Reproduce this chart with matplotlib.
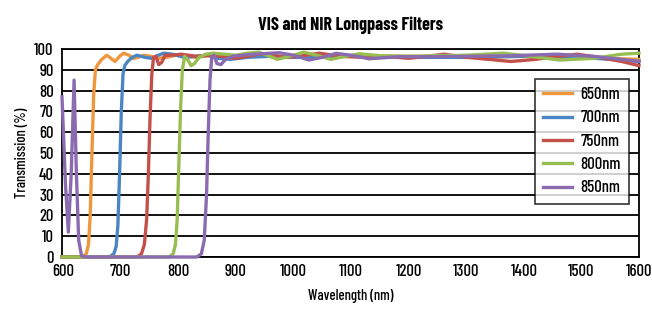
import matplotlib
matplotlib.use("Agg")
import matplotlib.pyplot as plt

plt.rcParams['font.family'] = ['Barlow Condensed', 'DejaVu Sans']

# ---- data ----
wl_650 = [598, 620, 634, 640, 644, 647, 650, 653, 656, 660, 667, 676, 683, 690, 698, 705, 714, 722, 730, 740, 752,
          765, 780, 795, 810, 830, 860, 900, 950, 1000, 1100, 1200, 1300, 1400, 1500, 1600]
t_650 = [0, 0, 0, 1.5, 6, 20, 50, 78, 90, 92.5, 95, 97, 95.5, 94, 96.5, 98, 97, 95.5, 96, 97, 96.5,
         95.5, 96, 97, 96.5, 96, 97, 96.5, 96.5, 96, 96.5, 96.5, 96, 96.5, 96, 95]

wl_700 = [598, 680, 688, 692, 695, 698, 701, 704, 707, 712, 720, 728, 742, 754, 765, 775, 790, 810, 830, 850,
          870, 890, 920, 960, 1000, 1100, 1200, 1300, 1400, 1500, 1600]
t_700 = [0, 0, 1.5, 5, 15, 40, 70, 88, 92, 94, 96, 97, 96, 95.5, 97, 98, 97.5, 96, 96.5, 97,
         95.5, 95, 96, 96.5, 96, 96.5, 96, 96, 96.5, 96, 94]

wl_750 = [598, 728, 736, 741, 745, 748, 751, 754, 757, 761, 766, 771, 777, 790, 805, 830, 860, 900, 940, 958,
          985, 1010, 1045, 1080, 1120, 1160, 1200, 1262, 1300, 1340, 1377, 1420, 1460, 1493, 1530, 1570, 1600]
t_750 = [0, 0, 1.5, 6, 18, 40, 68, 88, 96, 96.5, 92.5, 93.5, 97, 97, 97.5, 96.5, 97, 95.5, 97.5, 97.5,
         96, 96.5, 98, 96.5, 96, 96.5, 95.5, 97.5, 96, 95, 94, 95, 96.5, 97.5, 96, 94, 92]

wl_800 = [598, 784, 791, 795, 798, 801, 804, 807, 811, 816, 822, 828, 836, 848, 860, 880, 900, 920, 940, 972,
          1000, 1018, 1040, 1065, 1090, 1115, 1150, 1200, 1250, 1300, 1365, 1410, 1463, 1520, 1570, 1600]
t_800 = [0, 0, 1.5, 6, 18, 45, 72, 90, 96.5, 95, 92, 93, 96, 97.5, 98, 97.5, 97, 98, 98.5, 95,
         97, 98.5, 97, 95, 96.5, 97.7, 96.8, 96.5, 96.8, 97, 98, 96.5, 94.7, 95.5, 97.5, 98]

wl_850 = [598, 604, 609, 614, 619, 623, 627, 632, 640, 700, 800, 832, 840, 845, 849, 852, 855, 858, 862, 867,
          874, 882, 896, 930, 975, 1000, 1027, 1050, 1074, 1100, 1131, 1183, 1250, 1300, 1380, 1458, 1520, 1570, 1600]
t_850 = [77, 35, 12, 40, 85, 40, 8, 0.5, 0, 0, 0, 0, 1.5, 8, 30, 60, 85, 96, 97, 93,
         92.5, 95, 96.6, 97.5, 98.2, 97, 94.7, 96, 97.9, 97, 95.3, 96.3, 96.3, 96.5, 96.8, 97.5, 96.5, 95, 94]

series = [
    ("650nm", wl_650, t_650, "#F0963C"),
    ("700nm", wl_700, t_700, "#4A86C4"),
    ("750nm", wl_750, t_750, "#C4504A"),
    ("800nm", wl_800, t_800, "#98BE52"),
    ("850nm", wl_850, t_850, "#8A6BB0"),
]

x_ticks = [600, 700, 800, 900, 1000, 1100, 1200, 1300, 1400, 1500, 1600]
y_ticks = [0, 10, 20, 30, 40, 50, 60, 70, 80, 90, 100]

fig = plt.figure(figsize=(6.52, 3.18), dpi=100)
ax = fig.add_axes([62/652, 1-257/318, 577/652, 208/318])

for label, x, y, c in series:
    ax.plot(x, y, color=c, lw=2.4, label=label, solid_joinstyle='round', clip_on=False, zorder=3)

ax.set_xlim(598, 1600)
ax.set_ylim(0, 100)
ax.set_xticks(x_ticks)
ax.set_yticks(y_ticks)
ax.tick_params(axis='x', length=0, labelsize=12, pad=5)
ax.tick_params(axis='y', length=0, labelsize=12, pad=6)
for t in ax.get_xticklabels() + ax.get_yticklabels():
    t.set_fontweight('medium')
ax.grid(axis='y', color='black', lw=1.3, zorder=1)
for s in ax.spines.values():
    s.set_color('black')
    s.set_linewidth(1.3)

ax.set_title("VIS and NIR Longpass Filters", fontsize=13, fontweight='bold', pad=14)
ax.set_xlabel("Wavelength (nm)", fontsize=10.5, fontweight='medium', labelpad=7)
ax.set_ylabel("Transmission (%)", fontsize=10.5, fontweight='medium', labelpad=4)

leg = ax.legend(loc='upper right', bbox_to_anchor=(0.983, 0.857), frameon=True, fancybox=False,
                edgecolor='black', prop={'family': 'Barlow Condensed', 'size': 12, 'weight': 'medium'},
                handlelength=1.75, labelspacing=0.5, borderpad=0.5, handletextpad=0.5, borderaxespad=0)
leg.get_frame().set_linewidth(1.2)
for h in leg.get_lines():
    h.set_linewidth(2.4)

fig.savefig("out.png", dpi=100)
